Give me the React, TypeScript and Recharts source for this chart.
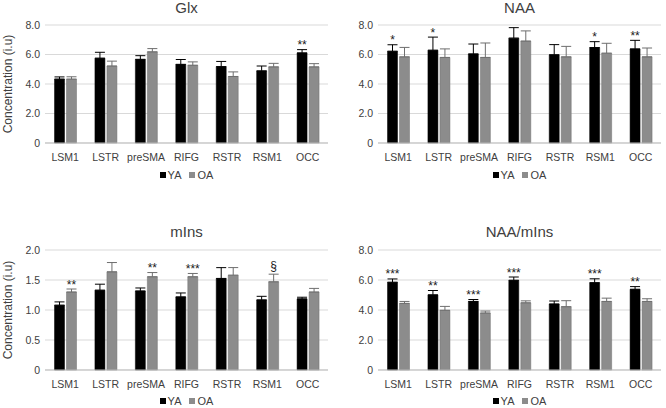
import React from 'react';
import { BarChart, Bar, XAxis, YAxis, CartesianGrid, ErrorBar, Legend, LabelList } from 'recharts';

const regions = ['LSM1', 'LSTR', 'preSMA', 'RIFG', 'RSTR', 'RSM1', 'OCC'];

// Glx
const glxYA = [4.33, 5.75, 5.67, 5.33, 5.18, 4.89, 6.11];
const glxYAErr = [0.15, 0.4, 0.25, 0.33, 0.35, 0.33, 0.22];
const glxOA = [4.33, 5.22, 6.18, 5.27, 4.51, 5.16, 5.16];
const glxOAErr = [0.16, 0.33, 0.22, 0.23, 0.31, 0.24, 0.22];
const glxYASig = ['', '', '', '', '', '', '**'];
const glxOASig = ['', '', '', '', '', '', ''];

// NAA
const naaYA = [6.22, 6.29, 6.04, 7.11, 5.98, 6.47, 6.38];
const naaYAErr = [0.44, 0.89, 0.67, 0.71, 0.69, 0.4, 0.58];
const naaOA = [5.84, 5.8, 5.8, 6.91, 5.84, 6.09, 5.84];
const naaOAErr = [0.64, 0.58, 0.98, 0.69, 0.71, 0.67, 0.6];
const naaYASig = ['*', '*', '', '', '', '*', '**'];
const naaOASig = ['', '', '', '', '', '', ''];

// mIns
const minsYA = [1.08, 1.33, 1.317, 1.218, 1.526, 1.168, 1.185];
const minsYAErr = [0.055, 0.1, 0.05, 0.066, 0.18, 0.06, 0.028];
const minsOA = [1.3, 1.636, 1.554, 1.554, 1.58, 1.47, 1.3];
const minsOAErr = [0.05, 0.155, 0.07, 0.055, 0.127, 0.127, 0.06];
const minsYASig = ['', '', '', '', '', '', ''];
const minsOASig = ['**', '', '**', '***', '', '§', ''];

// NAA/mIns
const ratioYA = [5.85, 5.01, 4.57, 5.98, 4.4, 5.82, 5.38];
const ratioYAErr = [0.22, 0.29, 0.13, 0.22, 0.2, 0.26, 0.18];
const ratioOA = [4.44, 3.98, 3.8, 4.48, 4.22, 4.57, 4.57];
const ratioOAErr = [0.13, 0.26, 0.13, 0.13, 0.4, 0.22, 0.18];
const ratioYASig = ['***', '**', '***', '***', '', '***', '**'];
const ratioOASig = ['', '', '', '', '', '', ''];

const ticks8 = [0, 2, 4, 6, 8];
const ticks2 = [0, 0.5, 1, 1.5, 2];
const seriesOrder = ['YA', 'OA'];

const FONT = '"Liberation Sans", Arial, sans-serif';
const TEXT = '#404040';
const YA_COLOR = '#000000';
const OA_COLOR = '#8c8c8c';
const OA_EDGE = '#6e6e6e';

type PanelProps = {
  title: string;
  left: number;
  top: number;
  ya: number[];
  yaErr: number[];
  oa: number[];
  oaErr: number[];
  yaSig: string[];
  oaSig: string[];
  ticks: number[];
  yLabel: boolean;
  plotTop: number;
  titleY: number;
  bottom: number;
  xHeight: number;
};

const makeSig = (vals: number[], errs: number[], sig: string[]) => (props: any) => {
  const { x, y, width, height, index } = props;
  const s = sig[index];
  if (!s) return null;
  const v = vals[index];
  const errPx = v > 0 ? (errs[index] * height) / v : 0;
  const top = y - errPx;
  const isSection = s === '§';
  return (
    <text
      x={x + width / 2}
      y={isSection ? top - 4 : top - 0.5}
      textAnchor="middle"
      fontFamily={FONT}
      fontSize={12}
      fill="#1a1a1a"
    >
      {s}
    </text>
  );
};

const LegendContent = (props: any) => {
  const items = [...(props.payload || [])].sort(
    (a: any, b: any) => seriesOrder.indexOf(a.value) - seriesOrder.indexOf(b.value)
  );
  return (
    <div
      style={{
        display: 'flex',
        justifyContent: 'center',
        alignItems: 'center',
        paddingLeft: 45,
        height: 14,
        fontFamily: FONT,
        fontSize: 11,
        color: TEXT,
      }}
    >
      {items.map((it: any, i: number) => (
        <span key={it.value} style={{ display: 'inline-flex', alignItems: 'center', marginLeft: i === 0 ? 0 : 8 }}>
          <span
            style={{
              display: 'inline-block',
              width: 6,
              height: 6,
              background: it.color,
              marginRight: 2,
            }}
          />
          <span>{it.value}</span>
        </span>
      ))}
    </div>
  );
};

const Panel = (p: PanelProps) => {
  const data = regions.map((r, i) => ({
    name: r,
    YA: p.ya[i],
    OA: p.oa[i],
    yaErr: [0, p.yaErr[i]],
    oaErr: [0, p.oaErr[i]],
    yaSig: p.yaSig[i],
    oaSig: p.oaSig[i],
  }));
  const fmt = (v: number) => (v === 0 ? '0' : v.toFixed(1));
  const max = p.ticks[p.ticks.length - 1];
  return (
    <div style={{ position: 'absolute', left: p.left, top: p.top, width: 333, height: 204 }}>
      <div
        style={{
          position: 'absolute',
          left: 45,
          width: 283,
          top: p.titleY - 9,
          height: 18,
          lineHeight: '18px',
          textAlign: 'center',
          fontFamily: FONT,
          fontSize: 15,
          color: TEXT,
        }}
      >
        {p.title}
      </div>
      <BarChart
        width={333}
        height={204}
        data={data}
        margin={{ top: p.plotTop, right: 5, left: 0, bottom: p.bottom }}
        barCategoryGap={9.5}
        barGap={2}
      >
        <CartesianGrid vertical={false} stroke="#d9d9d9" strokeWidth={1} />
        <XAxis
          dataKey="name"
          tickLine={false}
          axisLine={{ stroke: '#bfbfbf' }}
          tick={{ fontFamily: FONT, fontSize: 10.5, fill: TEXT }}
          tickMargin={5}
          height={p.xHeight}
          interval={0}
        />
        <YAxis
          width={45}
          domain={[0, max]}
          ticks={p.ticks}
          tickFormatter={fmt}
          tickLine={false}
          axisLine={false}
          tickSize={3}
          tickMargin={2}
          tick={{ fontFamily: FONT, fontSize: 10.5, fill: TEXT }}
          label={
            p.yLabel
              ? {
                  value: 'Concentration (i.u)',
                  angle: -90,
                  position: 'insideLeft',
                  offset: 8,
                  style: { textAnchor: 'middle', fontFamily: FONT, fontSize: 12, fill: TEXT },
                }
              : undefined
          }
        />
        <Legend verticalAlign="bottom" content={<LegendContent />} />
        <Bar dataKey="YA" name="YA" fill={YA_COLOR} stroke={YA_COLOR} strokeWidth={0.5} isAnimationActive={false}>
          <ErrorBar dataKey="yaErr" width={5} stroke={YA_COLOR} strokeWidth={1} direction="y" />
          <LabelList dataKey="yaSig" content={makeSig(p.ya, p.yaErr, p.yaSig)} />
        </Bar>
        <Bar dataKey="OA" name="OA" fill={OA_COLOR} stroke={OA_EDGE} strokeWidth={0.5} isAnimationActive={false}>
          <ErrorBar dataKey="oaErr" width={5} stroke={OA_EDGE} strokeWidth={1} direction="y" />
          <LabelList dataKey="oaSig" content={makeSig(p.oa, p.oaErr, p.oaSig)} />
        </Bar>
      </BarChart>
    </div>
  );
}
;

export default function App() {
  return (
    <div style={{ position: 'absolute', left: 0, top: 0, width: 666, height: 408, background: '#fff', overflow: 'hidden' }}>
      <Panel title="Glx" left={0} top={0} ya={glxYA} yaErr={glxYAErr} oa={glxOA} oaErr={glxOAErr}
        yaSig={glxYASig} oaSig={glxOASig} ticks={ticks8} yLabel={true} plotTop={25} titleY={8} bottom={22} xHeight={25} />
      <Panel title="NAA" left={333} top={0} ya={naaYA} yaErr={naaYAErr} oa={naaOA} oaErr={naaOAErr}
        yaSig={naaYASig} oaSig={naaOASig} ticks={ticks8} yLabel={false} plotTop={25} titleY={8} bottom={22} xHeight={25} />
      <Panel title="mIns" left={0} top={204} ya={minsYA} yaErr={minsYAErr} oa={minsOA} oaErr={minsOAErr}
        yaSig={minsYASig} oaSig={minsOASig} ticks={ticks2} yLabel={true} plotTop={46} titleY={28} bottom={0} xHeight={24} />
      <Panel title="NAA/mIns" left={333} top={204} ya={ratioYA} yaErr={ratioYAErr} oa={ratioOA} oaErr={ratioOAErr}
        yaSig={ratioYASig} oaSig={ratioOASig} ticks={ticks8} yLabel={false} plotTop={46} titleY={28} bottom={0} xHeight={24} />
    </div>
  );
}
